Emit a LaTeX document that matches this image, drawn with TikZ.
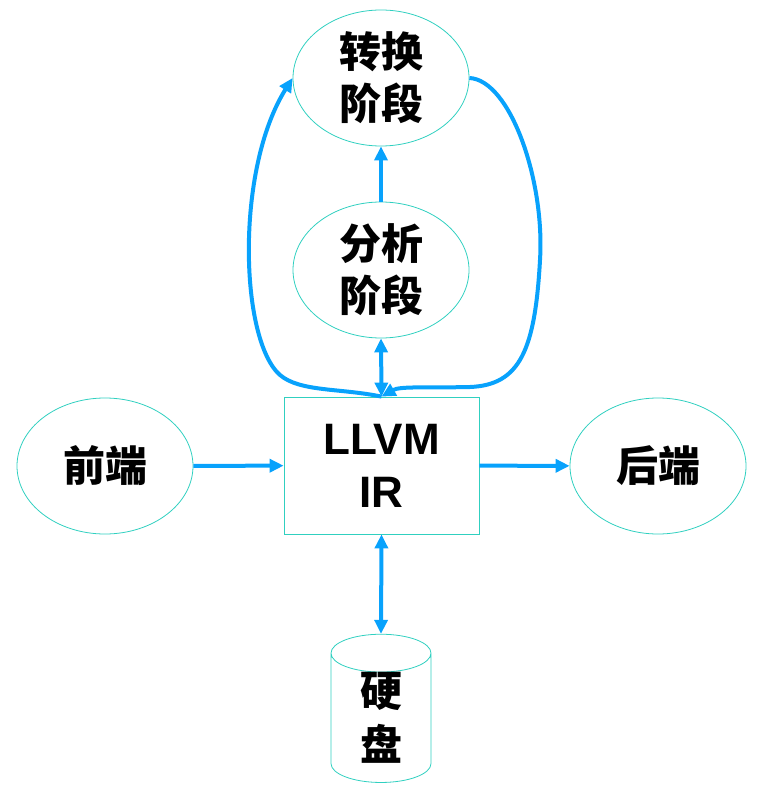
\documentclass[tikz,border=0pt]{standalone}
\usepackage{fontspec}
\setsansfont{Liberation Sans}
\newfontfamily\cjk{Noto Sans CJK SC}
\usetikzlibrary{arrows.meta,shapes.geometric}
\definecolor{edgeteal}{RGB}{48,208,192}
\definecolor{flowblue}{RGB}{8,162,252}
\begin{document}
\begin{tikzpicture}[x=1pt,y=-1pt,
    stage/.style={ellipse,draw=edgeteal,line width=0.8pt,minimum width=176pt,minimum height=136pt,inner sep=0pt,align=center,font=\cjk\bfseries\fontsize{42}{52}\selectfont},
    irbox/.style={rectangle,draw=edgeteal,line width=0.8pt,minimum width=195pt,minimum height=137pt,inner sep=0pt,align=center,font=\sffamily\bfseries\fontsize{44}{53}\selectfont},
    disk/.style={cylinder,shape border rotate=90,aspect=0.9,draw=edgeteal,line width=0.8pt,minimum width=100pt,minimum height=148pt,inner sep=0pt,align=center,font=\cjk\bfseries\fontsize{42}{54}\selectfont},
    flow/.style={draw=flowblue,line width=4pt,-{Triangle[length=14pt,width=13pt]}},
    twoway/.style={draw=flowblue,line width=4pt,{Triangle[length=14pt,width=13pt]}-{Triangle[length=14pt,width=13pt]}}]
  \useasboundingbox (0,0) rectangle (768,786);
  % nodes
  \node[stage] (trans) at (381,78) {转换\\阶段};
  \node[stage] (anal) at (381,270) {分析\\阶段};
  \node[irbox] (ir) at (381.5,465.5) {LLVM\\IR};
  \node[stage] (front) at (105,466) {前端};
  \node[stage] (back) at (658,466) {后端};
  \node[disk] (hdd) at (381,718) {硬\\盘};
  % straight connectors
  \draw[flow] (front) -- (ir);
  \draw[flow] (ir) -- (back);
  \draw[twoway] (ir.south) -- (hdd.top);
  \draw[twoway] (ir.north) -- (anal.south);
  \draw[flow] (anal) -- (trans);
  % loops round the analysis stage
  \draw[flow] (ir.north) .. controls (340,388) and (300,392) .. (280,375)
    .. controls (240,340) and (235,170) .. (trans.west);
  \draw[flow] (trans.east) .. controls (510,80) and (545,180) .. (540,260)
    .. controls (535,350) and (520,385) .. (470,387)
    .. controls (430,388) and (400,386) .. (ir.north);
\end{tikzpicture}
\end{document}
